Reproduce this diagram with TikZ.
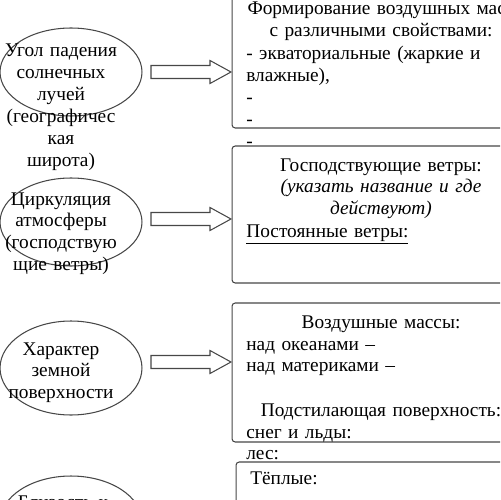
\documentclass[tikz,border=0pt]{standalone}
\usepackage{fontspec}
\setmainfont{Liberation Serif}
\usepackage{tikz}
\usetikzlibrary{%
  shapes.geometric,%
  calc%
}
\tikzset{
  factor/.style={draw=black!72, line width=0.6pt, ellipse, minimum width=2.84cm},
  panel/.style={draw=black!72, line width=0.6pt, rounded corners=1.8pt},
  ctext/.style={font=\fontsize{11}{12.47}\selectfont, text width=6cm, align=center, anchor=base},
  ltext/.style={font=\fontsize{11}{12.47}\selectfont, text width=6cm, align=left, anchor=base west},
  blockarrow/.style={draw=black!72, line width=0.6pt, to path={
    ($(\tikztostart)+(0,-6.5)$) -- ($(\tikztotarget)+(-21,-6.5)$)
    -- ($(\tikztotarget)+(-21,-11.5)$) -- (\tikztotarget)
    -- ($(\tikztotarget)+(-21,11.5)$) -- ($(\tikztotarget)+(-21,6.5)$)
    -- ($(\tikztostart)+(0,6.5)$) -- cycle}}
}
\begin{document}
\begin{tikzpicture}[x=0.02cm, y=-0.02cm, every node/.style={inner sep=0pt}]
\useasboundingbox (0,0) rectangle (500,500);
\clip (0,0) rectangle (500,500);

% factors
\node[factor, minimum height=1.76cm] (angle) at (71,72) {};
\node[factor, minimum height=1.76cm] (circ) at (71,222) {};
\node[factor, minimum height=1.88cm] (surf) at (71,368) {};
\node[factor, minimum height=1.84cm] (coast) at (71,522) {};

\node[ctext, text width=3cm] (angle-t) at (61,57) {Угол падения\\солнечных\\лучей\\(географичес\\кая\\широта)};
\node[ctext, text width=3cm] (circ-t) at (61,205) {Циркуляция\\атмосферы\\(господствую\\щие ветры)};
\node[ctext, text width=3cm] (surf-t) at (61,355) {Характер\\земной\\поверхности};
\node[ctext, text width=3cm] (coast-t) at (63,508) {Близость к};

% result boxes
\node[panel, minimum width=6.16cm, minimum height=2.96cm] (masses) at (386,54) {};
\node[panel, minimum width=6.16cm, minimum height=2.74cm] (winds) at (386,214.5) {};
\node[panel, minimum width=6.16cm, minimum height=2.78cm] (ground) at (386,372.5) {};

\node[ctext] (masses-h) at (381,15) {Формирование воздушных масс\\с различными свойствами:};
\node[ltext] (masses-l) at (246,59.5) {- экваториальные (жаркие и\\влажные),\\-\\-\\-};

\node[ctext] (winds-h) at (381,171) {Господствующие ветры:\\{\itshape (указать название и где}\\{\itshape действуют)}};
\node[ltext] (winds-l) at (246,237) {\underline{Постоянные ветры:}};

\node[ctext] (ground-h) at (381,328) {Воздушные массы:};
\node[ltext] (ground-l) at (246,350) {над океанами –\\над материками –};
\node[ctext] (ground-s) at (381,416) {Подстилающая поверхность:};
\node[ltext] (ground-m) at (246,438) {снег и льды:\\лес:};

\node[panel, minimum width=6.08cm, minimum height=2.76cm] (currents) at (388,531) {};
\node[ltext] (currents-l) at (250,484) {Тёплые:};

% arrows
\coordinate (a1) at (151,72);
\coordinate (b1) at (231,72);
\coordinate (a2) at (151,219);
\coordinate (b2) at (231,219);
\coordinate (a3) at (151,362);
\coordinate (b3) at (231,362);

\draw[blockarrow]
	(a1) to (b1)
	(a2) to (b2)
	(a3) to (b3)
;
\end{tikzpicture}
\end{document}
